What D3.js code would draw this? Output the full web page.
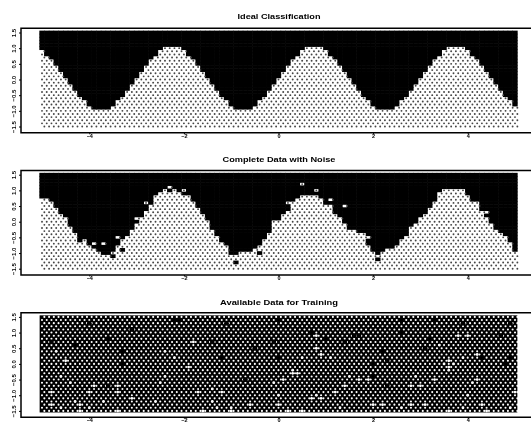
<!DOCTYPE html>
<html>
<head>
<meta charset="utf-8">
<script src="https://d3js.org/d3.v7.min.js"></script>
<style>
  html, body { margin: 0; padding: 0; background: #fff; overflow: hidden; }
  text { font-family: "Liberation Sans", Arial, sans-serif; fill: #000; }
</style>
</head>
<body>
<div id="chart"></div>
<script>
var width = 531;
var height = 423;

var titles = ["Ideal Classification", "Complete Data with Noise", "Available Data for Training"];
var titleWidths = [83, 113, 118];
var xTicks = [-4, -2, 0, 2, 4];
var yTicks = [-1.5, -1, -0.5, 0, 0.5, 1, 1.5];

// class boundary height for each of the 101 columns, x = -5 .. 5
var idealBoundary = [
  .9,.7,.6,.4,.2,0,-.2,-.4,-.6,-.7,-.9,-1,-1,-1,-1,-.9,-.7,-.6,-.4,-.2,0,.2,.4,.6,.7,.9,1,1,1,1,
  .9,.7,.6,.4,.2,0,-.2,-.4,-.6,-.7,-.9,-1,-1,-1,-1,-.9,-.7,-.6,-.4,-.2,0,.2,.4,.6,.7,.9,1,1,1,1,
  .9,.7,.6,.4,.2,0,-.2,-.4,-.6,-.7,-.9,-1,-1,-1,-1,-.9,-.7,-.6,-.4,-.2,0,.2,.4,.6,.7,.9,1,1,1,1,
  .9,.7,.6,.4,.2,0,-.2,-.4,-.6,-.7,-.9
];
var noisyBoundary = [
  .7,.7,.6,.4,.2,.1,-.2,-.4,-.7,-.7,-.8,-.9,-1,-1.1,-1.1,-1,-.8,-.6,-.5,-.3,
  -.1,.1,.3,.5,.8,.9,1,.9,.9,.9,.8,.8,.6,.4,.2,-.1,-.3,-.5,-.7,-.8,
  -1,-1.1,-1,-1,-1,-.9,-.8,-.6,-.4,-.1,0,.2,.3,.6,.7,.8,.8,.8,.8,.7,
  .5,.5,.2,.1,-.1,-.3,-.3,-.4,-.5,-.8,-1,-1.1,-1,-.9,-.9,-.8,-.7,-.5,-.2,-.1,
  .1,.2,.4,.6,.9,1,1,1,1,1,.8,.6,.5,.3,.1,-.1,-.3,-.4,-.5,-.7,-.9
];

// stray cells on the wrong side of the noisy boundary
var noisyLightCells = [
  [-4.1,-.6],[-3.9,-.7],[-3.7,-.7],[-3.4,-.5],[-2.3,1.1],[-2.2,1],[-2.1,.9],[-2,1],[-2.8,.6],[-1.8,.6],
  [-3,.1],[-1.5,0],[.5,1.2],[.2,.6],[.8,1],[1.1,.7],[1.4,.5],[-.1,0],[1.8,-.4],[1.9,-.5],
  [2.3,-.9],[2.5,-.8],[2.6,-.6],[3,.1],[4.2,.6],[4.4,.3],[4.5,-.2]
];
var noisyDarkCells = [
  [-3.7,-1],[-3.5,-1.1],[-3.3,-.9],[-1,-1],[-.9,-1.3],[-.4,-1],[2.1,-1.2],[5,-.9]
];

// training panel: bright gaps and dark blobs on the dotted field
var trainingBright = [
  [-4.7,.4],[-4.5,.1],[-4.6,-.4],[-4.4,-.6],[-4.8,-.9],[-4.8,-1.3],[-4.6,-1.4],[-4.3,-1.2],[-4.2,-1.3],[-4,-1.4],
  [-3.9,-.7],[-4,-.9],[-3.7,-1.2],[-3.4,-.7],[-3.4,-.9],[-3.1,-1.1],[-2.6,-1.2],[-2.4,.4],[-2.2,.2],[-1.9,-.1],
  [-2.4,-.4],[-2.5,-.6],[-1.8,.7],[-1.7,-.9],[-1.4,-.8],[-1.4,-1.2],[-1.2,-.9],[-1.3,-1.4],[-1,-1.4],[-.6,-1.3],
  [-4.2,-1.5],[-3.4,-1.5],[-1.6,-1.5],[-1,-1.5],
  [.8,.9],[.8,.5],[.9,.3],[1.1,.2],[.5,.2],[.3,-.2],[.4,-.3],[.3,-.3],[-.1,-.6],[.1,-.5],
  [0,-1],[.7,-1.1],[.8,-1],[.9,-1.1],[1.2,-.9],[1.4,-.7],[1.3,-1.4],[0,-1.3],[.2,-1.5],[.5,-1.5],
  [1.5,-.4],[1.7,-.5],[1.9,-.5],[2,-1.3],[2.2,-1.3],[2.9,-.4],[2.8,-.7],[3,-.7],[3.3,-.5],[2.6,-1.4],
  [2.8,-1.3],[3.1,-1.3],[3.6,.1],[3.5,0],[3.6,-.1],[3.7,0],[3.6,-.2],[3.9,.2],[3.8,.9],[4,.9],
  [3.4,.6],[4.2,.3],[4.1,-.6],[4.2,-.5],[4,-1],[3.9,-1.4],[4.3,-1.3],[4.9,-1.4],[5,-.9],[4.4,-1.5],[3.6,-1.5]
];
var trainingDark = [
  [-4,1.3],[-2.2,1.4],[-2.1,1.4],[-3.1,1.1],[-4.8,.7],[-3.6,.8],[-3.3,0],[-1.2,.2],[-.5,.5],[-1.1,1.3],
  [-3.6,-.7],[-1.4,.7],[-4.3,.6],[-3.3,.4],[-.7,-.5],[0,1.4],[3.3,1.4],[.7,1],[1.6,.9],[1.7,.9],
  [2.6,1],[2.6,1.4],[3.9,1.3],[4.7,.9],[4.9,1.3],[3.1,.5],[-.1,.7],[0,.2],[1,.8],[2,0],
  [2,-.4],[2.3,-.7],[4.9,.2],[4.8,0],[4.3,.2],[3.2,.8],[1.4,.7],[2.2,.4],[2.3,.1]
];

var panelTops = [28.3, 170.5, 312.7];
var titleYs = [18.5, 162, 304.5];
var xLabelDy = [3.9, 3.9, 2.9];

var x = d3.scaleLinear().domain([-5, 5]).range([42, 515]);
var cellW = x(0.1) - x(0);

// integer tenths, so the grid comparisons stay exact
var tenths = function(v) { return Math.round(v * 10); };

var svg = d3.select("#chart").append("svg")
    .attr("width", width)
    .attr("height", height);

// the reference is a soft scan, everything gets a slight blur
svg.append("filter")
    .attr("id", "scan")
    .attr("x", "-5%").attr("y", "-5%").attr("width", "110%").attr("height", "110%")
  .append("feGaussianBlur")
    .attr("stdDeviation", 0.7);

var root = svg.append("g").attr("filter", "url(#scan)");

var keySet = function(cells) {
  return new Set((cells || []).map(function(c) { return tenths(c[0]) + "," + tenths(c[1]); }));
};

// alternate rows sit half a column over
var dotX = function(d) { return x(d.x + (d.odd ? 0.05 : 0)); };

var drawAxes = function(g, top, y, labelDy) {
  var bottom = top + 104.5;

  g.append("path")
      .attr("d", "M560," + top + "H21V" + bottom + "H560")
      .attr("fill", "none")
      .attr("stroke", "#000")
      .attr("stroke-width", 1.5);

  var xAxis = g.append("g")
      .attr("transform", "translate(0," + bottom + ")")
      .call(d3.axisBottom(x).tickValues(xTicks).tickSize(1.5).tickPadding(0).tickFormat(d3.format("d")));
  xAxis.select(".domain").remove();
  xAxis.selectAll("text").attr("font-size", 5.5).attr("font-weight", "bold").attr("dy", labelDy);

  var yAxis = g.append("g")
      .attr("transform", "translate(21,0)")
      .call(d3.axisLeft(y).tickValues(yTicks).tickSize(2).tickPadding(0).tickFormat(d3.format(".1f")));
  yAxis.select(".domain").remove();
  yAxis.selectAll("text")
      .attr("font-size", 6)
      .attr("font-weight", "bold")
      .attr("text-anchor", "middle")
      .attr("dy", 0)
      .attr("transform", "translate(-5,0) rotate(-90)")
      .attr("x", 0)
      .attr("y", 0);
};

var drawField = function(g, y, boundary, lightCells, darkCells) {
  var cellH = y(0) - y(0.1);
  var light = keySet(lightCells);
  var dark = keySet(darkCells);
  var cells = [];
  boundary.forEach(function(b, i) {
    var cx = (i - 50) / 10;
    d3.range(-15, 16).forEach(function(r) {
      var key = tenths(cx) + "," + r;
      var lower = r <= tenths(b);
      if (light.has(key)) lower = true;
      if (dark.has(key)) lower = false;
      cells.push({x: cx, y: r / 10, lower: lower, odd: (r + 100) % 2 == 1});
    });
  });

  g.selectAll("rect.cell")
      .data(cells.filter(function(d) { return !d.lower; }))
      .enter()
      .append("rect")
      .attr("class", "cell")
      .attr("x", function(d) { return x(d.x) - cellW / 2 - 0.3; })
      .attr("y", function(d) { return y(d.y) - cellH / 2 - 0.3; })
      .attr("width", cellW + 0.6)
      .attr("height", cellH + 0.6)
      .attr("fill", "#000");

  g.selectAll("circle.dot")
      .data(cells.filter(function(d) { return d.lower; }))
      .enter()
      .append("circle")
      .attr("class", "dot")
      .attr("cx", dotX)
      .attr("cy", function(d) { return y(d.y); })
      .attr("r", 0.95)
      .attr("fill", "#444");
};

var drawTraining = function(g, y, bright, dark) {
  var cellH = y(0) - y(0.1);
  var dots = [];
  d3.range(-50, 51).forEach(function(i) {
    d3.range(-15, 16).forEach(function(r) {
      dots.push({x: i / 10, y: r / 10, odd: (r + 100) % 2 == 1});
    });
  });

  g.append("rect")
      .attr("x", x(-5) - cellW / 2)
      .attr("y", y(1.5) - cellH / 2)
      .attr("width", x(5) - x(-5) + cellW)
      .attr("height", y(-1.5) - y(1.5) + cellH)
      .attr("fill", "#000");

  g.selectAll("circle.dot")
      .data(dots)
      .enter()
      .append("circle")
      .attr("class", "dot")
      .attr("cx", dotX)
      .attr("cy", function(d) { return y(d.y); })
      .attr("r", 1.05)
      .attr("fill", "#fff");

  g.selectAll("circle.gap")
      .data(dark)
      .enter()
      .append("circle")
      .attr("class", "gap")
      .attr("cx", function(d) { return x(d[0]); })
      .attr("cy", function(d) { return y(d[1]); })
      .attr("r", 2.4)
      .attr("fill", "#000");

  g.selectAll("circle.bright")
      .data(bright)
      .enter()
      .append("circle")
      .attr("class", "bright")
      .attr("cx", function(d) { return x(d[0]); })
      .attr("cy", function(d) { return y(d[1]); })
      .attr("r", 1.4)
      .attr("fill", "#fff");
};

panelTops.forEach(function(top, p) {
  var y = d3.scaleLinear().domain([-1.5, 1.5]).range([top + 98.2, top + 4.2]);
  var g = root.append("g");

  if (p == 0) drawField(g, y, idealBoundary);
  if (p == 1) drawField(g, y, noisyBoundary, noisyLightCells, noisyDarkCells);
  if (p == 2) drawTraining(g, y, trainingBright, trainingDark);

  drawAxes(g, top, y, xLabelDy[p]);

  g.append("text")
      .attr("x", 279)
      .attr("y", titleYs[p])
      .attr("text-anchor", "middle")
      .attr("font-size", 7.5)
      .attr("font-weight", "bold")
      .attr("textLength", titleWidths[p])
      .attr("lengthAdjust", "spacingAndGlyphs")
      .text(titles[p]);
});
</script>
</body>
</html>
